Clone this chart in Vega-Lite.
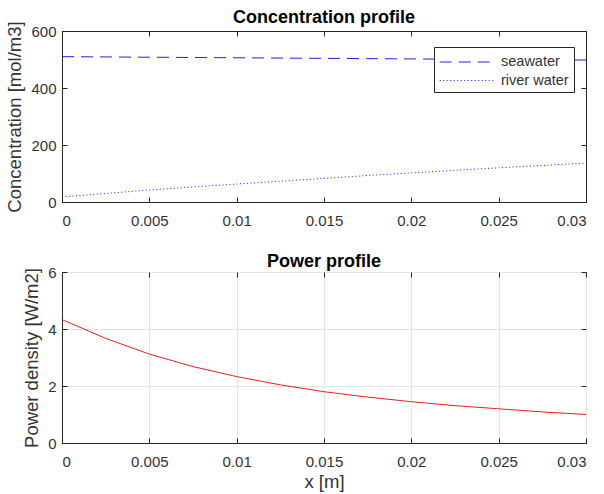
{
  "$schema": "https://vega.github.io/schema/vega-lite/v6.json",
  "background": "white",
  "padding": {"left": 5, "top": 8, "right": 2, "bottom": 2},
  "datasets": {
    "conc": [
      {"x": 0, "series": "seawater", "c": 510},
      {"x": 0.0025, "series": "seawater", "c": 509},
      {"x": 0.005, "series": "seawater", "c": 508},
      {"x": 0.0075, "series": "seawater", "c": 507},
      {"x": 0.01, "series": "seawater", "c": 506},
      {"x": 0.0125, "series": "seawater", "c": 505},
      {"x": 0.015, "series": "seawater", "c": 504},
      {"x": 0.0175, "series": "seawater", "c": 503},
      {"x": 0.02, "series": "seawater", "c": 502},
      {"x": 0.0225, "series": "seawater", "c": 501},
      {"x": 0.025, "series": "seawater", "c": 500},
      {"x": 0.0275, "series": "seawater", "c": 499},
      {"x": 0.03, "series": "seawater", "c": 498},
      {"x": 0, "series": "river water", "c": 18},
      {"x": 0.0025, "series": "river water", "c": 30},
      {"x": 0.005, "series": "river water", "c": 42},
      {"x": 0.0075, "series": "river water", "c": 53},
      {"x": 0.01, "series": "river water", "c": 63},
      {"x": 0.0125, "series": "river water", "c": 73},
      {"x": 0.015, "series": "river water", "c": 83},
      {"x": 0.0175, "series": "river water", "c": 93},
      {"x": 0.02, "series": "river water", "c": 102},
      {"x": 0.0225, "series": "river water", "c": 111},
      {"x": 0.025, "series": "river water", "c": 120},
      {"x": 0.0275, "series": "river water", "c": 128},
      {"x": 0.03, "series": "river water", "c": 137}
    ],
    "power": [
      {"x": 0, "p": 4.33},
      {"x": 0.0025, "p": 3.67},
      {"x": 0.005, "p": 3.12},
      {"x": 0.0075, "p": 2.68},
      {"x": 0.01, "p": 2.33},
      {"x": 0.0125, "p": 2.04},
      {"x": 0.015, "p": 1.8},
      {"x": 0.0175, "p": 1.61},
      {"x": 0.02, "p": 1.45},
      {"x": 0.0225, "p": 1.31},
      {"x": 0.025, "p": 1.2},
      {"x": 0.0275, "p": 1.09},
      {"x": 0.03, "p": 1.0}
    ]
  },
  "config": {
    "font": "Liberation Sans",
    "view": {"stroke": "#262626", "strokeWidth": 1},
    "axis": {
      "labelFont": "Liberation Sans",
      "labelFontSize": 15,
      "labelColor": "#333333",
      "titleFont": "Liberation Sans",
      "titleFontSize": 18.5,
      "titleFontWeight": "normal",
      "titleColor": "#333333",
      "domainColor": "#262626",
      "tickColor": "#262626",
      "tickSize": -5,
      "gridColor": "#e3e3e3"
    },
    "axisX": {"labelPadding": 16},
    "axisY": {"labelPadding": 11, "titlePadding": 6},
    "title": {"font": "Liberation Sans", "fontSize": 18, "fontWeight": "bold", "color": "#000000", "offset": -6},
    "concat": {"spacing": 23}
  },
  "vconcat": [
    {
      "width": 524,
      "height": 171,
      "title": "Concentration profile",
      "data": {"name": "conc"},
      "layer": [
        {
          "mark": {"type": "line", "strokeWidth": 1, "color": "#2222dd"},
          "encoding": {
            "x": {"field": "x", "type": "quantitative", "scale": {"domain": [0, 0.03], "nice": false},
                  "axis": {"title": null, "values": [0, 0.005, 0.01, 0.015, 0.02, 0.025, 0.03], "format": "~g", "grid": false}},
            "y": {"field": "c", "type": "quantitative", "scale": {"domain": [0, 600], "nice": false},
                  "axis": {"title": "Concentration [mol/m3]", "values": [0, 200, 400, 600], "grid": false}},
            "strokeDash": {"field": "series", "type": "nominal", "sort": ["seawater", "river water"],
                           "scale": {"domain": ["seawater", "river water"], "range": [[12, 7], [1, 2.5]]},
                           "legend": {"title": null, "orient": "none", "legendX": 372, "legendY": 16,
                                      "strokeColor": "#262626", "fillColor": "white", "padding": 5,
                                      "symbolType": "M-1,0H5", "symbolSize": 348, "symbolStrokeWidth": 1,
                                      "symbolStrokeColor": "#2222dd", "labelOffset": 42,
                                      "labelFont": "Liberation Sans", "labelFontSize": 14.5, "labelColor": "#333333",
                                      "rowPadding": 1.5}}
          }
        },
        {
          "mark": {"type": "point", "opacity": 0},
          "encoding": {
            "x": {"field": "x", "type": "quantitative",
                  "axis": {"orient": "top", "title": null, "labels": false, "domain": false, "grid": false,
                           "values": [0, 0.005, 0.01, 0.015, 0.02, 0.025, 0.03]}},
            "y": {"field": "c", "type": "quantitative",
                  "axis": {"orient": "right", "title": null, "labels": false, "domain": false, "grid": false,
                           "values": [0, 200, 400, 600]}}
          }
        }
      ],
      "resolve": {"axis": {"x": "independent", "y": "independent"}}
    },
    {
      "width": 524,
      "height": 171,
      "title": "Power profile",
      "data": {"name": "power"},
      "layer": [
        {
          "mark": {"type": "line", "strokeWidth": 1, "color": "#e8201e"},
          "encoding": {
            "x": {"field": "x", "type": "quantitative", "scale": {"domain": [0, 0.03], "nice": false},
                  "axis": {"title": "x [m]", "values": [0, 0.005, 0.01, 0.015, 0.02, 0.025, 0.03], "format": "~g", "grid": true, "titlePadding": 3}},
            "y": {"field": "p", "type": "quantitative", "scale": {"domain": [0, 6], "nice": false},
                  "axis": {"title": "Power density [W/m2]", "values": [0, 2, 4, 6], "grid": true}}
          }
        },
        {
          "mark": {"type": "point", "opacity": 0},
          "encoding": {
            "x": {"field": "x", "type": "quantitative",
                  "axis": {"orient": "top", "title": null, "labels": false, "domain": false, "grid": false,
                           "values": [0, 0.005, 0.01, 0.015, 0.02, 0.025, 0.03]}},
            "y": {"field": "p", "type": "quantitative",
                  "axis": {"orient": "right", "title": null, "labels": false, "domain": false, "grid": false,
                           "values": [0, 2, 4, 6]}}
          }
        }
      ],
      "resolve": {"axis": {"x": "independent", "y": "independent"}}
    }
  ]
}
